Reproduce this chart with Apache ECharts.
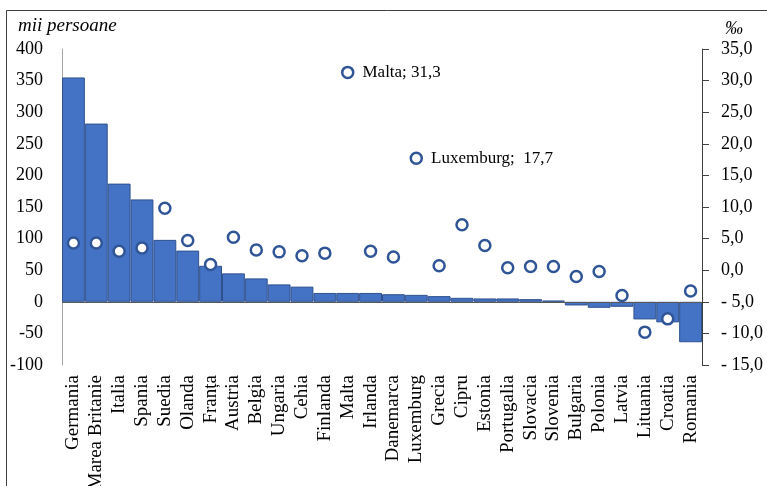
<!DOCTYPE html>
<html>
<head>
<meta charset="utf-8">
<script src="https://cdn.jsdelivr.net/npm/echarts@6/dist/echarts.min.js"></script>
<style>
html,body{margin:0;padding:0;background:#fff;}
#chart{width:767px;height:486px;}
</style>
</head>
<body>
<div id="chart"></div>
<script>
const categories = ['Germania','Marea Britanie','Italia','Spania','Suedia','Olanda','Franța','Austria','Belgia','Ungaria','Cehia','Finlanda','Malta','Irlanda','Danemarca','Luxemburg','Grecia','Cipru','Estonia','Portugalia','Slovacia','Slovenia','Bulgaria','Polonia','Latvia','Lituania','Croatia','Romania'];
// Bars: population change, thousand persons (left axis)
const barValues = [355, 282, 187, 162, 98, 81, 57, 45, 37, 27.5, 24, 14, 14, 14, 12, 11, 9, 6.3, 5.3, 5.3, 4.2, 2, -5.8, -9.5, -7.9, -27.9, -32.6, -64];
// Circles: rate, per mille (right axis)
const rateValues = [4.3, 4.3, 3.0, 3.5, 9.8, 4.7, 0.9, 5.2, 3.2, 2.9, 2.3, 2.7, 31.3, 3.0, 2.1, 17.7, 0.7, 7.2, 3.9, 0.4, 0.6, 0.6, -1.0, -0.2, -4.0, -9.8, -7.7, -3.3];
const labeledPoints = ['Malta', 'Luxemburg'];
const leftTicks = {min: -100, max: 400, interval: 50};
const rightTicks = {min: -15, max: 35, interval: 5};

const serif = '"Liberation Serif", "Times New Roman", serif';
const fmtComma = v => v.toFixed(1).replace('.', ',');

const scatterData = rateValues.map((v, i) => {
  const name = categories[i];
  if (labeledPoints.includes(name)) {
    return {
      value: v,
      label: {
        show: true,
        position: 'right',
        distance: 8,
        formatter: name === 'Luxemburg' ? (name + ';  ' + fmtComma(v)) : (name + '; ' + fmtComma(v)),
        color: '#000',
        fontFamily: serif,
        fontSize: 17
      }
    };
  }
  return v;
});

const chart = echarts.init(document.getElementById('chart'), null, {renderer: 'canvas'});
chart.setOption({
  animation: false,
  backgroundColor: '#fff',
  textStyle: {fontFamily: serif},
  grid: {left: 62, right: 65, top: 49, bottom: 121, containLabel: false, outerBoundsMode: 'none'},
  graphic: [
    {type: 'rect', shape: {x: 6.5, y: 10.5, width: 800, height: 600}, style: {fill: 'none', stroke: '#404040', lineWidth: 1}, silent: true},
    {type: 'text', left: 18, top: 16, style: {text: 'mii persoane', font: 'italic 19px ' + serif, fill: '#000'}},
    {type: 'text', left: 725, top: 20, style: {text: '‰', font: 'italic 18px ' + serif, fill: '#000'}}
  ],
  xAxis: {
    type: 'category',
    data: categories,
    boundaryGap: true,
    axisLine: {show: false, onZero: false},
    axisTick: {show: false},
    axisLabel: {rotate: 90, margin: 10, interval: 0, color: '#000', fontFamily: serif, fontSize: 19},
    splitLine: {show: false}
  },
  yAxis: [
    {
      type: 'value',
      min: leftTicks.min, max: leftTicks.max, interval: leftTicks.interval,
      position: 'left',
      axisLine: {show: true, lineStyle: {color: '#A6A6A6', width: 1}},
      axisTick: {show: false},
      axisLabel: {color: '#000', fontFamily: serif, fontSize: 18, margin: 19},
      splitLine: {show: false}
    },
    {
      type: 'value',
      min: rightTicks.min, max: rightTicks.max, interval: rightTicks.interval,
      position: 'right',
      axisLine: {show: true, lineStyle: {color: '#404040', width: 1}},
      axisTick: {show: true, length: 7, lineStyle: {color: '#404040'}},
      axisLabel: {
        color: '#000', fontFamily: serif, fontSize: 18, margin: 19,
        formatter: v => (v < 0 ? '- ' + fmtComma(Math.abs(v)) : fmtComma(v))
      },
      splitLine: {show: false}
    }
  ],
  series: [
    {
      type: 'bar',
      yAxisIndex: 0,
      data: barValues,
      barCategoryGap: '0%',
      itemStyle: {color: '#4472C4', borderColor: '#2F528F', borderWidth: 1},
      markLine: {
        silent: true,
        symbol: 'none',
        label: {show: false},
        lineStyle: {color: '#595959', width: 1, type: 'solid'},
        data: [{yAxis: 0}]
      },
      z: 2
    },
    {
      type: 'scatter',
      yAxisIndex: 1,
      data: scatterData,
      symbol: 'circle',
      symbolSize: 11,
      itemStyle: {color: '#fff', borderColor: '#2F5597', borderWidth: 2.5, opacity: 1},
      z: 5
    }
  ]
});
</script>
</body>
</html>
